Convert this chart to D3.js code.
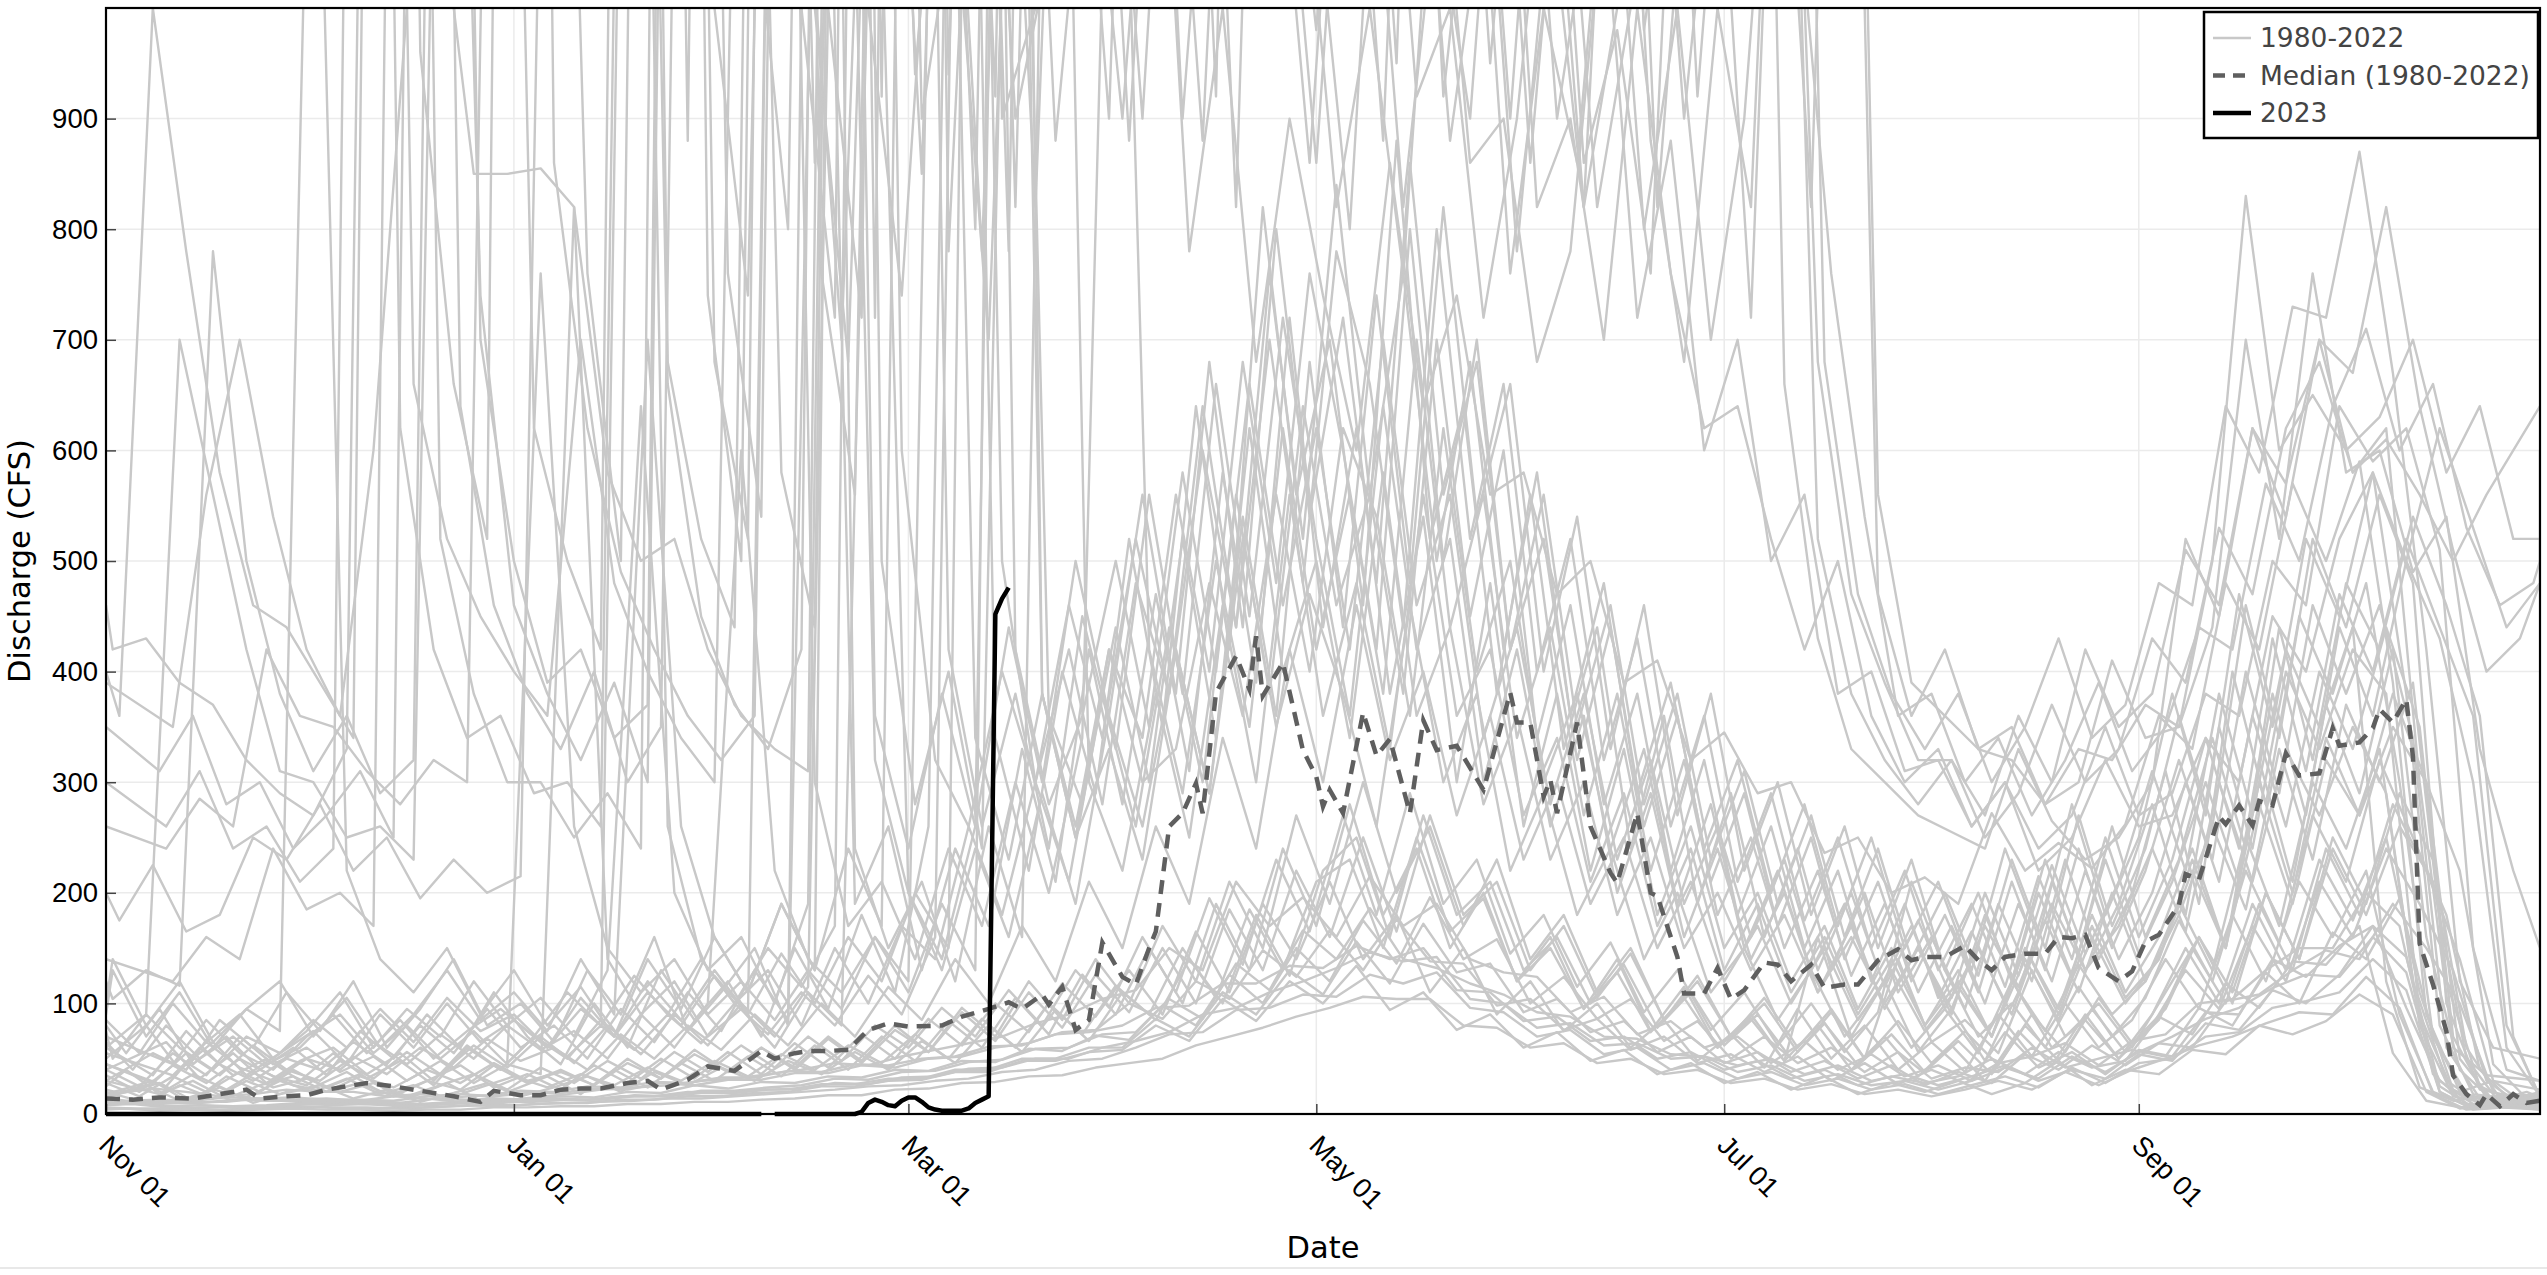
<!DOCTYPE html>
<html>
<head>
<meta charset="utf-8">
<script src="https://cdn.jsdelivr.net/npm/d3@7"></script>
<style>
  html, body { margin: 0; padding: 0; background: #fff; }
  svg { display: block; font-family: "DejaVu Sans", Verdana, sans-serif; }
</style>
</head>
<body>
<div id="chart"></div>
<script>
// water-year day index (0 = Nov 01). Historic years are sampled every 5 days,
// each year on its own day offset so the readings do not line up.
const years = d3.range(1980, 2023);
const sampleOffset = years.map((yr, i) => ((i * 3) % 10) - 4);
const sampleDaysFor = off => d3.range(74).map(k =>
  k === 0 ? 0 : k === 73 ? 364 : Math.max(0, Math.min(364, k * 5 + off)));

// one row per year, Nov..Oct (6,7,6,5,7,6,6,6,6,6,6,7 samples per month)
const historicFlows = [
  /*1980*/ [460,420,430,390,370,320, 290,270,330,2400,660,520,450, 400,360,700,480,400,340, 300,1800,580,440,2600, 920,3000,780,1400,900,1050,1600, 1250,1000,1500,1100,1700,1250, 980,1400,1050,1250,880,1100, 1000,1300,860,980,760,1400, 1200,2100,660,430,330,300, 270,255,240,330,265,230, 250,300,520,450,620,570, 700,580,610,560,500,560,640],
  /*1981*/ [12,11,10,10,13,12, 12,11,10,10,14,13,12, 15,18,22,24,26,30, 32,36,40,46,44, 52,58,64,70,82,90,104, 112,150,130,210,170,196, 160,215,170,190,140,128, 124,92,106,72,84,60, 70,46,66,40,54,34, 44,30,74,42,56,36, 58,52,92,90,140,124, 152,170,96,30,9,14,8],
  /*1982*/ [30,55,40,85,60,110, 75,120,60,95,140,80,100, 65,130,90,160,75,110, 150,80,1500,190,260, 130,240,170,330,210,420,280, 470,310,580,390,720,440, 620,380,540,300,480,260, 380,220,330,180,260,150, 200,120,170,95,150,80, 130,70,150,95,180,110, 160,240,150,320,210,370, 290,420,160,40,12,20,15],
  /*1983*/ [390,350,560,700,540,420, 360,600,1000,1100,850,850,855, 820,580,500,520,420,360, 330,310,2800,720,3200, 1500,800,2400,1000,1300,900,1800, 1250,1700,1050,1400,2200,1200, 1500,1100,1900,1300,900,1300, 1150,1600,980,1200,1400,1000, 1600,1300,2000,560,390,360, 330,320,280,300,410,340, 350,500,830,600,650,600, 630,700,580,640,520,520,500],
  /*1984*/ [80,55,95,45,70,40, 60,35,75,50,90,60,110, 70,45,100,60,130,85, 120,70,150,95,180, 110,260,1900,340,220,400,290, 520,350,640,420,820,560, 700,460,880,520,640,380, 560,330,440,240,360,190, 290,160,240,130,200,110, 160,95,190,120,230,140, 200,310,190,400,280,450, 380,480,300,70,18,10,20],
  /*1985*/ [20,10,26,14,30,18, 24,38,20,16,28,12,22, 34,18,40,24,46,30, 52,34,62,40,70, 48,84,60,105,72,126,90, 150,100,190,130,240,170, 280,180,240,150,200,120, 160,95,140,75,115,60, 90,48,80,40,70,34, 62,30,75,44,90,50, 80,130,95,170,120,210, 160,240,190,130,30,9,12],
  /*1986*/ [260,240,285,260,420,360, 350,310,280,320,300,2000,620, 500,420,3000,680,520,440, 2600,1000,720,3400,1150, 2800,1050,1400,820,1600,1150,1900, 1300,880,1500,1050,1150,820, 1000,760,1200,860,900,680, 780,1100,720,880,600,700, 500,560,380,400,310,320, 260,300,220,250,320,260, 270,340,300,450,400,520, 580,500,620,530,440,480,600],
  /*1987*/ [5,5,4,5,4,5, 6,6,5,5,6,7,8, 8,10,10,13,13,16, 16,19,20,25,25, 30,31,38,38,48,48,56, 58,80,66,104,84,120, 100,134,94,110,76,90, 60,74,48,58,36,46, 28,38,22,34,18,28, 20,30,18,28,48,26, 40,36,58,54,80,72, 84,108,90,20,5,8,4],
  /*1988*/ [40,25,55,35,70,45, 60,38,52,30,48,28,45, 36,820,140,90,120,70, 95,60,110,80,1300, 200,130,240,160,290,190,360, 260,420,290,520,350,470, 380,260,460,300,380,220, 290,180,240,140,200,110, 150,85,130,70,110,60, 95,55,120,75,135,90, 120,190,130,250,170,300, 240,330,120,30,10,14,12],
  /*1989*/ [15,28,12,34,20,40, 24,36,18,30,22,44,28, 40,26,50,32,58,38, 60,42,70,48,80, 56,96,70,120,85,140,100, 170,120,210,150,270,190, 300,200,260,170,230,140, 180,110,150,85,125,70, 105,60,95,50,140,65, 85,55,130,70,100,60, 110,160,100,200,140,240, 180,260,210,50,10,7,9],
  /*1990*/ [100,140,80,120,65,95, 120,70,105,60,90,130,85, 110,75,140,90,700,260, 160,110,190,130,240, 170,2200,420,260,380,240,450, 330,560,380,660,450,720, 520,360,640,420,520,300, 420,260,360,200,290,160, 240,140,200,110,170,95, 150,90,180,110,210,130, 190,280,180,350,240,400, 330,420,380,90,20,12,16],
  /*1991*/ [8,10,7,8,7,8, 10,10,9,8,9,11,11, 11,13,13,17,16,21, 21,24,26,32,31, 38,39,47,49,59,60,72, 74,104,86,136,112,166, 140,186,140,132,118,108, 92,88,70,68,54,52, 44,50,36,44,30,36, 26,34,44,30,40,32, 54,48,82,76,112,100, 126,170,142,25,6,9,6],
  /*1992*/ [60,35,75,45,30,50, 40,65,45,80,55,95,60, 80,50,95,65,110,75, 130,85,2400,240,150, 210,120,260,160,1800,300,220, 380,250,460,300,560,360, 480,330,560,360,420,270, 340,210,290,170,240,130, 190,110,160,90,140,80, 120,70,150,90,170,105, 140,230,150,300,200,340, 270,380,300,220,45,14,12],
  /*1993*/ [140,120,160,140,240,185, 200,170,2600,520,380,300,300, 250,290,240,3200,740,500, 2900,1100,700,1500,2200, 1100,1700,780,2500,1000,1300,900, 1400,1050,1800,1200,860,1300, 1050,1500,920,1200,760,1000, 860,1200,800,1000,700,900, 1300,820,1800,470,360,420, 330,350,280,330,320,370, 350,440,700,520,760,580, 600,490,540,330,220,150,130],
  /*1994*/ [25,40,18,30,14,26, 34,20,28,16,30,44,24, 36,22,44,28,50,32, 56,36,64,42,72, 50,86,62,100,74,118,88, 130,90,165,110,190,140, 210,140,180,110,150,90, 120,75,100,60,85,48, 72,42,95,50,80,40, 65,38,90,52,100,60, 85,140,95,180,120,210, 160,220,90,20,8,12,10],
  /*1995*/ [60,90,700,560,420,310, 300,250,260,230,1800,740,460, 380,320,390,300,2600,680, 520,3000,1000,680,1600, 2600,940,1800,820,2000,1000,1300, 1100,1600,920,2200,1200,860, 1300,880,1600,1020,1200,780, 1100,820,1400,880,680,1000, 820,1500,680,470,390,320, 320,270,360,300,420,350, 380,510,460,620,540,700, 670,820,640,510,400,430,480],
  /*1996*/ [45,25,60,35,50,30, 55,32,48,26,60,40,70, 50,85,2000,260,140,100, 130,80,150,100,170, 140,260,180,300,210,380,260, 440,300,560,380,640,460, 560,380,700,450,600,340, 460,280,380,220,320,180, 260,150,220,120,190,105, 165,100,200,125,230,145, 210,300,210,380,270,440, 360,500,430,300,60,16,14],
  /*1997*/ [400,360,1000,780,580,460, 440,390,340,3000,960,660,520, 3400,860,620,490,420,360, 320,360,2400,760,560, 2200,900,1100,700,1500,880,1200, 900,1300,780,1000,680,900, 740,600,860,640,740,560, 580,470,500,390,410,320, 345,290,300,236,250,200, 214,190,272,220,245,222, 262,360,330,480,420,570, 500,590,390,90,20,30,22],
  /*1998*/ [35,20,44,28,50,34, 26,48,32,56,36,62,42, 70,46,80,54,90,62, 100,70,115,1600,320, 200,140,260,2000,380,260,420, 340,560,400,680,480,760, 600,420,800,500,700,420, 520,320,440,260,360,210, 290,170,250,140,210,120, 180,110,210,130,240,150, 220,320,230,400,290,460, 380,460,340,60,14,18,14],
  /*1999*/ [10,9,11,11,14,13, 14,12,16,14,11,14,13, 16,15,20,19,26,23, 29,28,34,33,40, 39,48,47,59,57,71,67, 98,80,126,100,150,120, 175,136,196,140,158,100, 124,86,104,66,84,50, 70,46,60,38,56,32, 42,38,60,42,50,58, 52,96,80,128,100,164, 140,195,70,14,6,10,8],
  /*2000*/ [90,130,70,110,60,95, 75,1400,220,140,110,150,90, 130,80,115,70,140,95, 160,110,190,130,2800, 500,280,400,240,1600,360,280, 440,300,520,340,620,400, 500,340,580,360,440,280, 360,230,300,180,250,150, 200,130,180,110,160,100, 150,95,170,115,190,130, 170,240,165,300,210,330, 270,350,290,80,16,10,12],
  /*2001*/ [6,5,5,6,6,7, 7,6,6,5,6,8,7, 9,10,11,12,14,14, 16,18,20,22,25, 26,30,32,38,40,48,50, 60,72,74,94,96,108, 106,126,118,128,96,92, 70,76,54,60,40,46, 32,38,26,32,22,27, 18,26,34,24,42,28, 46,50,70,74,96,102, 110,140,112,20,4,6,5],
  /*2002*/ [18,30,12,24,10,20, 26,14,22,11,19,28,16, 24,34,20,38,26,42, 30,48,36,56,40, 66,46,80,56,94,66,110, 85,140,100,180,125,220, 250,160,270,180,210,130, 160,100,135,78,110,62, 90,50,82,44,72,38, 66,36,80,48,95,56, 85,150,100,190,130,240, 180,280,220,140,30,8,10],
  /*2003*/ [70,45,85,55,40,70, 90,55,80,50,75,45,760, 260,150,110,140,90,120, 85,130,95,160,110, 190,130,2600,380,250,330,230, 420,290,540,360,680,440, 740,480,820,540,660,400, 540,330,460,270,380,220, 300,180,260,150,230,130, 200,120,230,145,260,160, 230,340,240,440,320,480, 420,540,460,360,70,15,18],
  /*2004*/ [14,12,13,12,15,14, 15,13,13,12,16,18,16, 19,19,23,22,28,26, 31,31,37,37,44, 42,50,52,60,64,74,76, 100,86,120,104,148,124, 166,130,176,138,136,98, 104,76,86,58,70,46, 54,38,52,30,46,27, 40,28,46,52,64,44, 66,72,100,104,130,150, 150,200,170,36,9,7,9],
  /*2005*/ [50,80,40,65,35,55, 75,45,90,60,100,65,85, 60,95,70,110,80,125, 90,1900,300,170,210, 140,240,170,300,200,340,1500, 420,290,500,350,620,420, 560,380,700,440,560,340, 440,270,380,220,320,180, 250,150,220,125,190,110, 170,100,190,120,220,140, 200,300,210,360,260,400, 330,440,350,70,14,18,15],
  /*2006*/ [300,260,310,240,260,210, 240,2800,620,420,340,360,290, 300,260,2200,660,450,370, 330,420,3000,1000,740, 1200,2400,900,1000,1700,1000,1300, 1000,1500,820,1800,1100,1400, 1200,820,1100,900,1300,820, 900,700,1000,760,620,640, 520,420,500,360,300,330, 260,300,240,270,350,270, 290,380,360,500,460,640, 590,620,510,150,40,30,28],
  /*2007*/ [22,19,23,20,16,18, 22,20,20,16,18,15,17, 21,20,25,24,29,28, 33,33,39,38,45, 44,50,52,61,62,72,74, 80,96,98,118,118,134, 132,152,140,150,112,110, 84,88,66,70,50,56, 40,48,32,40,26,34, 28,34,50,36,56,42, 48,88,72,118,96,138, 135,170,55,12,6,9,7],
  /*2008*/ [85,55,100,65,90,50, 75,110,60,95,70,120,80, 105,70,130,640,200,130, 160,100,190,2200,360, 240,380,260,440,300,500,360, 560,380,680,440,800,540, 720,480,860,560,680,420, 560,350,460,280,380,230, 310,190,270,160,240,140, 200,125,230,150,270,170, 240,360,260,460,340,520, 440,560,480,100,22,16,18],
  /*2009*/ [30,18,36,22,40,26, 20,34,24,40,28,46,30, 38,26,46,32,54,38, 60,40,68,46,76, 56,92,66,110,78,126,92, 150,100,185,130,220,160, 250,165,270,180,210,130, 170,105,145,85,120,70, 100,56,92,50,84,46, 75,44,90,56,105,64, 95,160,110,200,140,250, 190,290,230,60,14,9,11],
  /*2010*/ [120,104,130,116,780,500, 380,310,360,290,320,2400,700, 500,390,420,340,370,3000, 1000,740,2000,860,1300, 1800,940,1300,780,1600,1000,1500, 1100,1500,900,1300,1000,1700, 1100,800,1300,920,1000,720, 900,1200,820,1000,1300,900, 1200,720,1500,520,380,320, 280,320,250,290,370,300, 330,430,390,530,470,620, 680,580,620,300,60,35,30],
  /*2011*/ [65,40,80,50,70,45, 60,90,55,85,50,75,95, 70,110,80,125,90,140, 100,150,115,170,2600, 600,320,260,400,300,460,340, 520,380,640,440,760,520, 840,560,760,500,680,420, 580,360,480,290,390,240, 320,200,280,170,250,150, 210,130,240,160,280,180, 250,380,270,470,350,520, 450,580,380,80,18,14,18],
  /*2012*/ [10,12,10,11,14,12, 13,11,11,9,11,14,12, 14,13,16,16,20,19, 22,22,27,27,32, 32,40,40,50,50,60,60, 86,70,110,90,130,108, 156,118,172,128,136,92, 104,74,84,56,70,46, 56,38,48,32,44,26, 38,28,54,40,62,44, 64,60,102,108,130,148, 140,190,150,100,20,6,7],
  /*2013*/ [55,35,65,42,30,50, 40,65,45,72,50,80,58, 75,50,90,60,100,600, 220,140,110,160,120, 1700,340,230,380,250,420,300, 330,480,360,560,400,620, 540,360,620,400,500,300, 380,240,330,190,280,150, 220,130,190,110,170,95, 150,90,175,110,200,120, 180,260,185,330,230,370, 300,390,120,25,12,16,13],
  /*2014*/ [4,5,3,4,3,4, 5,4,4,3,4,4,6, 6,7,7,9,9,11, 11,13,14,17,17, 22,23,28,29,34,35,42, 46,50,62,70,78,88, 96,106,104,104,80,78, 60,64,46,50,36,40, 28,32,22,27,18,22, 16,22,30,22,38,26, 40,50,62,70,82,92, 90,124,96,18,4,6,4],
  /*2015*/ [16,26,12,22,15,30, 20,32,18,26,14,24,34, 24,36,26,42,30,48, 34,54,40,62,46, 72,50,86,60,100,72,116, 90,150,105,185,130,210, 230,150,250,165,195,120, 150,95,128,74,105,60, 86,48,160,70,120,56, 95,48,110,60,85,50, 90,150,100,190,130,230, 175,250,110,22,8,12,9],
  /*2016*/ [40,65,32,55,28,48, 60,36,55,30,62,40,70, 52,80,58,90,64,100, 72,110,80,125,90, 160,2000,500,300,420,280,480, 380,600,440,700,480,780, 660,440,800,520,660,400, 520,320,430,260,360,210, 290,175,250,150,220,130, 190,115,215,140,250,160, 230,340,240,430,310,470, 400,520,440,360,80,16,14],
  /*2017*/ [200,175,225,165,180,250, 230,280,220,250,195,230,200, 215,1800,760,500,2800,880, 3200,1100,800,2600,1000, 1400,850,1800,1000,2200,1100,1300, 1800,1150,2000,1300,2300,1450, 1500,1050,2300,1150,1400,950, 1300,900,1100,1500,820,1200, 1600,1000,2000,680,470,380, 330,380,300,350,430,340, 370,480,460,640,580,730, 720,870,670,420,120,60,50],
  /*2018*/ [28,16,34,20,38,24, 32,20,28,16,26,36,22, 42,28,48,32,56,38, 62,42,70,48,80, 60,96,70,112,80,130,96, 160,110,195,135,230,165, 270,180,290,190,230,145, 180,115,155,92,130,76, 110,62,100,56,92,210, 130,70,100,60,115,70, 105,175,120,220,155,270, 210,320,250,180,40,10,12],
  /*2019*/ [350,310,360,280,300,240, 270,310,250,2600,640,460,380, 330,400,300,350,2400,760, 540,2800,1000,720,3000, 1200,1600,920,2600,1100,1400,880, 1400,1050,1600,1100,2200,1300, 1400,950,1800,1050,1300,860, 1200,820,1000,1500,920,1300, 1700,1100,760,540,360,380, 300,340,270,320,390,310, 350,440,420,570,500,640, 710,600,660,530,460,480,500],
  /*2020*/ [75,50,90,60,40,70, 55,85,60,95,65,105,75, 90,60,105,70,120,85, 130,90,145,100,160, 120,200,150,2400,420,280,360, 500,350,580,400,660,460, 620,420,700,460,560,340, 440,280,380,230,320,190, 260,160,230,130,200,115, 175,105,200,125,225,145, 210,310,220,380,270,420, 350,440,120,24,12,16,14],
  /*2021*/ [8,9,6,8,6,7, 9,8,9,7,8,10,10, 12,13,13,16,16,19, 19,22,23,28,27, 33,34,41,42,50,50,60, 66,74,90,96,110,120, 132,146,138,142,104,100, 78,82,62,64,50,52, 38,44,30,36,26,30, 22,30,42,32,52,38, 56,70,86,96,114,126, 124,160,128,20,5,8,6],
  /*2022*/ [45,28,55,35,62,40, 30,52,36,60,42,68,48, 60,40,72,50,80,58, 90,62,100,70,115, 85,140,100,170,120,210,150, 260,190,340,240,420,300, 460,320,400,270,360,230, 300,190,250,150,210,120, 170,100,150,85,130,75, 115,70,140,85,160,100, 140,220,150,280,190,320, 270,350,300,50,12,10,12]
];

// median of 1980-2022
const medianDays = [0,4,8,13,17,21,23,27,30,33,36,39,43,46,49,52,56,58,62,65,68,71,74,78,81,83,87,90,94,98,100,103,105,108,111,114,117,120,125,128,132,135,137,140,141,143,145,147,149,152,154,156,157,159,161,163,164,166,169,171,172,173,176,179,181,182,183,185,188,190,192,195,197,199,202,206,210,211,213,215,216,217,220,222,225,226,229,231,232,235,236,239,241,243,245,248,250,252,255,257,260,262,265,268,270,272,275,278,280,282,284,287,290,292,294,296,298,301,303,305,307,310,311,313,316,317,319,321,322,324,326,328,331,333,334,337,339,340,342,344,345,346,348,350,351,353,355,356,358,360,362,364];
const medianFlow = [14,13,15,14,18,22,14,16,17,22,25,28,25,22,19,16,11,21,17,17,22,23,23,28,30,22,31,43,39,57,50,55,57,57,58,76,82,79,80,88,95,101,95,108,99,115,76,85,155,124,117,150,165,260,272,299,272,381,414,384,432,378,408,329,305,278,293,272,363,324,339,272,356,329,333,293,381,354,354,287,302,272,354,260,218,209,272,200,197,142,109,109,132,104,112,137,135,120,135,114,117,117,139,149,139,142,142,152,139,130,142,145,145,160,159,162,132,120,129,156,162,189,217,212,269,262,279,261,283,279,326,306,308,349,333,336,349,366,354,375,323,154,117,75,35,18,8,18,7,18,10,12];

// current water year (null = missing day)
const wy2023Days = [0,98,99,100,112,113,114,115,116,117,118,119,120,121,122,123,124,125,126,127,128,129,130,131,132,133,134,135];
const wy2023Flow = [0,0,null,0,0,2,10,13,11,8,7,12,15,15,11,6,4,3,3,3,3,5,10,13,16,452,466,476];

const yTicks = d3.range(0, 1000, 100);
const xTickDays = [0, 61, 120, 181, 242, 304];
const legendLabels = ["1980-2022", "Median (1980-2022)", "2023"];

const width = 2547, height = 1275;
const plot = { left: 106, right: 2540, top: 8, bottom: 1114 };
const start = new Date(2022, 10, 1);
const dayToDate = d => d3.timeDay.offset(start, d);

const x = d3.scaleTime().domain([start, dayToDate(364)]).range([plot.left, plot.right]);
const y = d3.scaleLinear().domain([0, 1000]).range([plot.bottom, plot.top]);

const svg = d3.select("#chart").append("svg")
  .attr("width", width)
  .attr("height", height)
  .attr("viewBox", [0, 0, width, height]);

svg.append("defs").append("clipPath").attr("id", "clip")
  .append("rect")
  .attr("x", plot.left).attr("y", plot.top)
  .attr("width", plot.right - plot.left)
  .attr("height", plot.bottom - plot.top + 6);

// grid
const grid = svg.append("g").attr("stroke", "#ebebeb").attr("stroke-width", 1.5);
grid.selectAll(".hg").data(yTicks.slice(1)).join("line")
  .attr("x1", plot.left).attr("x2", plot.right)
  .attr("y1", d => y(d)).attr("y2", d => y(d));
grid.selectAll(".vg").data(xTickDays.slice(1)).join("line")
  .attr("x1", d => x(dayToDate(d))).attr("x2", d => x(dayToDate(d)))
  .attr("y1", plot.top).attr("y2", plot.bottom);

const line = d3.line()
  .defined(d => d[1] != null)
  .x(d => x(dayToDate(d[0])))
  .y(d => y(d[1]));

const traces = svg.append("g").attr("clip-path", "url(#clip)").attr("fill", "none");

traces.append("g")
  .attr("stroke", "#c8c8c8")
  .attr("stroke-width", 2.4)
  .attr("stroke-linejoin", "round")
  .selectAll("path")
  .data(historicFlows)
  .join("path")
  .attr("d", (row, i) => {
    const days = sampleDaysFor(sampleOffset[i]);
    return line(row.slice(0, days.length).map((v, k) => [days[k], v]));
  });

traces.append("path")
  .attr("stroke", "#5f5f5f")
  .attr("stroke-width", 4.5)
  .attr("stroke-dasharray", "14,9")
  .attr("d", line(medianDays.map((d, i) => [d, medianFlow[i]])));

// axes
const xAxis = svg.append("g")
  .attr("transform", `translate(0,${plot.bottom})`)
  .call(d3.axisBottom(x)
    .tickValues(xTickDays.map(dayToDate))
    .tickFormat(d3.timeFormat("%b %d"))
    .tickSize(-10)
    .tickSizeOuter(0));
xAxis.select(".domain").remove();
xAxis.selectAll(".tick line").attr("stroke", "#444").attr("stroke-width", 1.5);
xAxis.selectAll(".tick text")
  .attr("x", null).attr("y", null).attr("dy", null)
  .attr("transform", "translate(-9,33) rotate(45)")
  .attr("text-anchor", "start")
  .attr("fill", "#000")
  .style("font-size", "27.5px");

const yAxis = svg.append("g")
  .attr("transform", `translate(${plot.left},0)`)
  .call(d3.axisLeft(y)
    .tickValues(yTicks)
    .tickSize(-10)
    .tickPadding(8)
    .tickSizeOuter(0));
yAxis.select(".domain").remove();
yAxis.selectAll(".tick line").attr("stroke", "#444").attr("stroke-width", 1.5);
yAxis.selectAll(".tick text").attr("fill", "#000").style("font-size", "27.5px");

// frame
svg.append("rect")
  .attr("x", plot.left).attr("y", plot.top)
  .attr("width", plot.right - plot.left)
  .attr("height", plot.bottom - plot.top)
  .attr("fill", "none")
  .attr("stroke", "#000")
  .attr("stroke-width", 2.2);

// 2023 on top
svg.append("g").attr("clip-path", "url(#clip)")
  .append("path")
  .attr("fill", "none")
  .attr("stroke", "#000")
  .attr("stroke-width", 4.5)
  .attr("stroke-linejoin", "round")
  .attr("d", line(wy2023Days.map((d, i) => [d, wy2023Flow[i]])));

// axis titles
svg.append("text")
  .attr("x", (plot.left + plot.right) / 2)
  .attr("y", 1258)
  .attr("text-anchor", "middle")
  .style("font-size", "30.5px")
  .text("Date");

svg.append("text")
  .attr("transform", `translate(30,${(plot.top + plot.bottom) / 2}) rotate(-90)`)
  .attr("text-anchor", "middle")
  .style("font-size", "30.5px")
  .text("Discharge (CFS)");

// faint page rule at the bottom
svg.append("line")
  .attr("x1", 0).attr("x2", width)
  .attr("y1", 1268).attr("y2", 1268)
  .attr("stroke", "#e8e8e8").attr("stroke-width", 2);

// legend
const legend = svg.append("g");
legend.append("rect")
  .attr("x", 2204).attr("y", 12)
  .attr("width", 334).attr("height", 126)
  .attr("fill", "#fff")
  .attr("stroke", "#000")
  .attr("stroke-width", 2.5);

const legendStyles = [
  { stroke: "#c8c8c8", width: 2.4, dash: null },
  { stroke: "#5f5f5f", width: 4.5, dash: "12,8" },
  { stroke: "#000", width: 4.5, dash: null }
];
const rows = legend.selectAll(".item").data(legendLabels).join("g")
  .attr("transform", (d, i) => `translate(0,${38 + i * 37.5})`);
rows.append("line")
  .attr("x1", 2213).attr("x2", 2251)
  .attr("stroke", (d, i) => legendStyles[i].stroke)
  .attr("stroke-width", (d, i) => legendStyles[i].width)
  .attr("stroke-dasharray", (d, i) => legendStyles[i].dash);
rows.append("text")
  .attr("x", 2260)
  .attr("dy", "0.35em")
  .attr("fill", "#444")
  .style("font-size", "26.5px")
  .text(d => d);
</script>
</body>
</html>
